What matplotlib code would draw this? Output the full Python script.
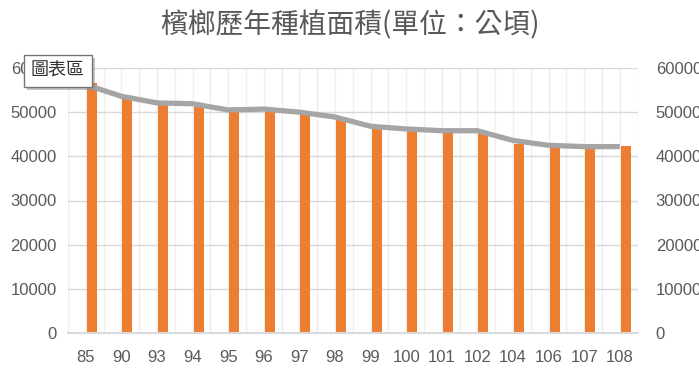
import matplotlib
matplotlib.use("Agg")
import matplotlib.pyplot as plt
import matplotlib.patheffects as pe
import numpy as np

# 年度與面積(公頃)
years = ["85", "90", "93", "94", "95", "96", "97", "98",
         "99", "100", "101", "102", "104", "106", "107", "108"]
bar_area = [56500, 53300, 51600, 51100, 50100, 50100, 49500, 48200,
            46400, 45700, 45200, 45200, 42900, 42200, 41800, 42300]
line_area = [56200, 53600, 52100, 51900, 50500, 50700, 50000, 48900,
             46800, 46200, 45800, 45800, 43600, 42500, 42200, 42200]
y_ticks = [0, 10000, 20000, 30000, 40000, 50000, 60000]

txt_color = "#595959"
num_font = "Liberation Sans"
cjk_font = ["Noto Sans CJK TC", "DejaVu Sans"]

fig = plt.figure(figsize=(6.99, 3.68), dpi=100)
ax = fig.add_axes([68/699, 35/368, 569.6/699, 265/368])

x = np.arange(len(years))

# 格線 (每半個類別一條)
for gx in np.arange(-0.5, len(years), 0.5):
    ax.axvline(gx, color="#EEEEEE", lw=1, zorder=0)
for gy in y_ticks[1:]:
    ax.axhline(gy, color="#D9D9D9", lw=1, zorder=0.5)

ax.bar(x + 0.17, bar_area, width=0.28, color="#ED7D31", zorder=2)
ax.plot(x, line_area, color="#A5A5A5", lw=3.8, solid_joinstyle="round",
        solid_capstyle="butt", zorder=3)

ax.set_xlim(-0.5, len(years) - 0.5)
ax.set_ylim(0, 60000)
ax.set_xticks(x)
ax.set_xticklabels(years)
ax.set_yticks(y_ticks)
ax.set_yticklabels([str(v) for v in y_ticks])
ax.tick_params(axis="x", length=0, pad=12, labelsize=12, colors=txt_color)
ax.tick_params(axis="y", length=0, pad=8, labelsize=12, colors=txt_color)
for lab in ax.get_xticklabels() + ax.get_yticklabels():
    lab.set_fontfamily(num_font)

for s in ["top", "left", "right"]:
    ax.spines[s].set_visible(False)
ax.spines["bottom"].set_color("#D9D9D9")
ax.spines["bottom"].set_linewidth(1.5)
ax.spines["bottom"].set_zorder(4)

ax2 = ax.twinx()
ax2.set_ylim(0, 60000)
ax2.set_yticks(y_ticks)
ax2.set_yticklabels([str(v) for v in y_ticks])
ax2.tick_params(axis="y", length=0, pad=13, labelsize=12, colors=txt_color)
for lab in ax2.get_yticklabels():
    lab.set_fontfamily(num_font)
for s in ax2.spines.values():
    s.set_visible(False)

fig.text(0.5, 1 - 25/368, "檳榔歷年種植面積(單位：公頃)", ha="center", va="center",
         fontsize=20, color=txt_color, family=cjk_font)

# 圖表區 提示框
tip = fig.text(31/699, 1 - 71/368, "圖表區", ha="left", va="center",
               fontsize=13, color="#333333", family=cjk_font, zorder=10)
tip.set_bbox(dict(boxstyle="square,pad=0.4", facecolor="white",
                  edgecolor="#767676", linewidth=1))
tip.get_bbox_patch().set_path_effects(
    [pe.withSimplePatchShadow(offset=(2, -2), shadow_rgbFace="#888888", alpha=0.5)])

fig.savefig("out.png", dpi=100)
